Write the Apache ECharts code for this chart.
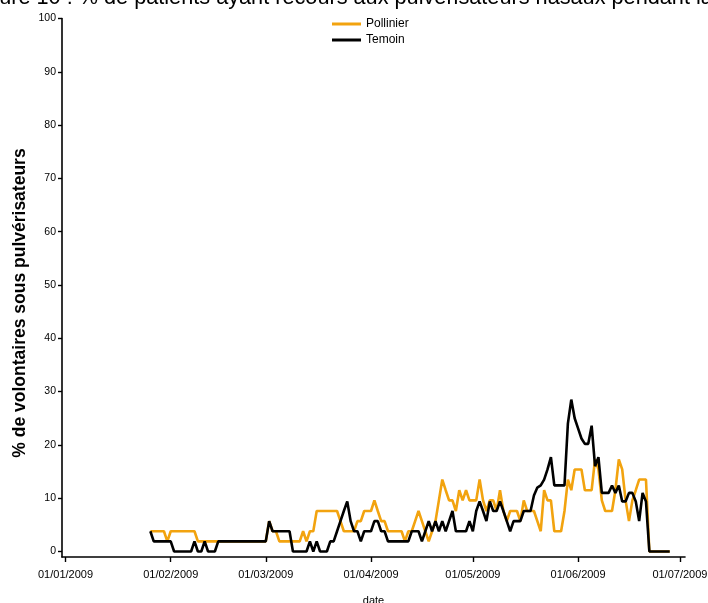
<!DOCTYPE html>
<html>
<head>
<meta charset="utf-8">
<script src="https://cdn.jsdelivr.net/npm/echarts@6/dist/echarts.min.js"></script>
<style>
  html, body { margin: 0; padding: 0; background: #fff; }
  #chart { width: 708px; height: 603px; }
</style>
</head>
<body>
<div id="chart"></div>
<script>
// Daily share (%) of volunteers using nasal sprays, from 26 Jan 2009
const seriesNames = ['Pollinier', 'Temoin'];
const firstDay = '2009-01-26';

const pollinier = [
  3.8, 3.8, 3.8, 3.8, 3.8, 1.9, 3.8, 3.8, 3.8, 3.8,
  3.8, 3.8, 3.8, 3.8, 1.9, 1.9, 1.9, 1.9, 1.9, 1.9,
  1.9, 1.9, 1.9, 1.9, 1.9, 1.9, 1.9, 1.9, 1.9, 1.9,
  1.9, 1.9, 1.9, 1.9, 1.9, 5.7, 3.8, 3.8, 1.9, 1.9,
  1.9, 1.9, 1.9, 1.9, 1.9, 3.8, 1.9, 3.8, 3.8, 7.6,
  7.6, 7.6, 7.6, 7.6, 7.6, 7.6, 5.7, 3.8, 3.8, 3.8,
  3.8, 5.7, 5.7, 7.6, 7.6, 7.6, 9.6, 7.6, 5.7, 5.7,
  3.8, 3.8, 3.8, 3.8, 3.8, 1.9, 3.8, 3.8, 5.7, 7.6,
  5.7, 3.8, 1.9, 3.8, 5.7, 9.6, 13.5, 11.5, 9.6, 9.6,
  7.6, 11.5, 9.6, 11.5, 9.6, 9.6, 9.6, 13.5, 9.6, 7.6,
  9.6, 9.6, 7.6, 11.5, 7.6, 5.7, 7.6, 7.6, 7.6, 5.7,
  9.6, 7.6, 7.6, 7.6, 5.7, 3.8, 11.5, 9.6, 9.6, 3.8,
  3.8, 3.8, 7.6, 13.5, 11.5, 15.4, 15.4, 15.4, 11.5, 11.5,
  11.5, 17.3, 15.4, 9.6, 7.6, 7.6, 7.6, 11.5, 17.3, 15.4,
  9.6, 5.7, 9.6, 11.5, 13.5, 13.5, 13.5, 0, 0, 0,
  0, 0, 0, 0
];

const temoin = [
  3.8, 1.9, 1.9, 1.9, 1.9, 1.9, 1.9, 0, 0, 0,
  0, 0, 0, 1.9, 0, 0, 1.9, 0, 0, 0,
  1.9, 1.9, 1.9, 1.9, 1.9, 1.9, 1.9, 1.9, 1.9, 1.9,
  1.9, 1.9, 1.9, 1.9, 1.9, 5.7, 3.8, 3.8, 3.8, 3.8,
  3.8, 3.8, 0, 0, 0, 0, 0, 1.9, 0, 1.9,
  0, 0, 0, 1.9, 1.9, 3.8, 5.7, 7.6, 9.4, 5.7,
  3.8, 3.8, 1.9, 3.8, 3.8, 3.8, 5.7, 5.7, 3.8, 3.8,
  1.9, 1.9, 1.9, 1.9, 1.9, 1.9, 1.9, 3.8, 3.8, 3.8,
  1.9, 3.8, 5.7, 3.8, 5.7, 3.8, 5.7, 3.8, 5.7, 7.6,
  3.8, 3.8, 3.8, 3.8, 5.7, 3.8, 7.6, 9.4, 7.6, 5.7,
  9.4, 7.6, 7.6, 9.4, 7.6, 5.7, 3.8, 5.7, 5.7, 5.7,
  7.6, 7.6, 7.6, 10.5, 12, 12.4, 13.5, 15.4, 17.7, 12.4,
  12.4, 12.4, 12.4, 24, 28.5, 25, 23.1, 21.2, 20.2, 20.2,
  23.6, 16, 17.7, 11, 11, 11, 12.4, 11, 12.4, 9.4,
  9.4, 11, 11, 9.4, 5.7, 11, 9.4, 0, 0, 0,
  0, 0, 0, 0
];

const monthTicks = ['2009-01-01', '2009-02-01', '2009-03-01', '2009-04-01', '2009-05-01', '2009-06-01', '2009-07-01'];
const monthLabels = ['01/01/2009', '01/02/2009', '01/03/2009', '01/04/2009', '01/05/2009', '01/06/2009', '01/07/2009'];
const yTicks = [0, 10, 20, 30, 40, 50, 60, 70, 80, 90, 100];

const DAY = 86400000;
function toTime(s) {
  const p = s.split('-').map(Number);
  return Date.UTC(p[0], p[1] - 1, p[2]);
}
const t0 = toTime(firstDay);
const tickTimes = monthTicks.map(toTime);
const pairs = vals => vals.map((v, i) => [t0 + i * DAY, v]);

const FONT = '"Liberation Sans", Arial, Helvetica, sans-serif';
const chart = echarts.init(document.getElementById('chart'), null, { renderer: 'canvas' });

chart.setOption({
  animation: false,
  backgroundColor: '#ffffff',
  textStyle: { fontFamily: FONT, color: '#000' },
  graphic: [
    {
      // figure caption, clipped by the top edge of the page
      type: 'text',
      left: -31,
      top: -13,
      style: {
        text: 'Figure 10 : % de patients ayant recours aux pulvérisateurs nasaux pendant la saison pollinique',
        fontSize: 21.7,
        fontFamily: FONT,
        fill: '#000'
      }
    },
    {
      // y-axis title
      type: 'text',
      x: 20,
      y: 303,
      rotation: Math.PI / 2,
      style: {
        text: '% de volontaires sous pulvérisateurs',
        x: 0,
        y: 0,
        align: 'center',
        verticalAlign: 'middle',
        fontSize: 17.5,
        fontWeight: 'bold',
        fontFamily: FONT,
        fill: '#000'
      }
    }
  ],
  legend: {
    data: seriesNames,
    orient: 'vertical',
    left: 332,
    top: 18,
    padding: 0,
    itemGap: 4,
    itemWidth: 29,
    itemHeight: 3,
    icon: 'rect',
    textStyle: { fontSize: 12, color: '#000', fontFamily: FONT }
  },
  grid: { left: 62, right: 23, top: 18.5, bottom: 46, containLabel: false, outerBoundsMode: 'none' },
  xAxis: {
    type: 'value',
    min: tickTimes[0] - 1.03 * DAY,
    max: tickTimes[tickTimes.length - 1] + 1.5 * DAY,
    name: 'date',
    nameLocation: 'middle',
    nameGap: 38,
    nameTextStyle: { fontSize: 11, color: '#000', fontFamily: FONT },
    axisLine: { show: true, onZero: false, lineStyle: { color: '#000', width: 1.6 } },
    axisTick: { show: true, customValues: tickTimes, length: 5, lineStyle: { color: '#000', width: 1.4 } },
    axisLabel: {
      customValues: tickTimes,
      fontSize: 11,
      color: '#000',
      margin: 12,
      fontFamily: FONT,
      formatter: v => {
        const i = tickTimes.findIndex(t => Math.abs(t - v) < DAY / 2);
        return i >= 0 ? monthLabels[i] : '';
      }
    },
    splitLine: { show: false }
  },
  yAxis: {
    type: 'value',
    min: -1.03,
    max: 100,
    axisLine: { show: true, onZero: false, lineStyle: { color: '#000', width: 1.6 } },
    axisTick: { show: true, customValues: yTicks, length: 4, lineStyle: { color: '#000', width: 1.4 } },
    axisLabel: { customValues: yTicks, fontSize: 10.5, color: '#000', margin: 6, fontFamily: FONT },
    splitLine: { show: false }
  },
  series: [
    {
      name: seriesNames[0],
      type: 'line',
      data: pairs(pollinier),
      showSymbol: false,
      color: '#F2A30F',
      lineStyle: { color: '#F2A30F', width: 2.6 }
    },
    {
      name: seriesNames[1],
      type: 'line',
      data: pairs(temoin),
      showSymbol: false,
      color: '#000000',
      lineStyle: { color: '#000000', width: 2.6 }
    }
  ]
});
</script>
</body>
</html>
